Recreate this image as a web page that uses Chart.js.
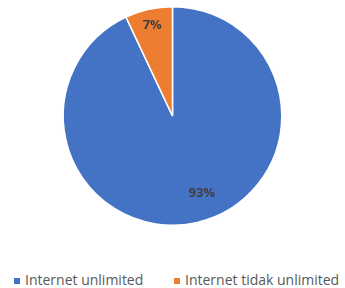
<!DOCTYPE html>
<html>
<head>
<meta charset="utf-8">
<script src="https://cdn.jsdelivr.net/npm/chart.js@4"></script>
<style>
  html, body { margin: 0; padding: 0; background: #fff; }
  #wrap { position: relative; width: 345px; height: 232px; }
  #legenda { position: absolute; left: 0; top: 270px; width: 345px; height: 18px;
             font: 14px 'Open Sans', sans-serif; color: #595959; }
  #legenda span.item { position: absolute; top: 0; white-space: nowrap; line-height: 19px; }
  #legenda span.kotak { display: inline-block; width: 6px; height: 6px; margin-right: 5px; vertical-align: 1px; }
</style>
</head>
<body>
<div id="wrap"><canvas id="pie"></canvas></div>
<div id="legenda"></div>
<script>
  // data
  const kategori = ["Internet unlimited", "Internet tidak unlimited"];
  const persen = [93, 7];
  const warna = ["#4472C4", "#ED7D31"];

  // draws the % labels inside the slices (like Excel)
  const labelPersen = {
    id: "labelPersen",
    afterDatasetsDraw(chart, args, opts) {
      const ctx = chart.ctx;
      const meta = chart.getDatasetMeta(0);
      ctx.save();
      ctx.font = "bold 13px 'Open Sans', sans-serif";
      ctx.fillStyle = "#404040";
      ctx.textAlign = "center";
      ctx.textBaseline = "middle";
      meta.data.forEach(function (arc, i) {
        let mid = (arc.startAngle + arc.endAngle) / 2 + (opts.geser[i] || 0);
        let r = arc.outerRadius * opts.jarak[i];
        let x = arc.x + Math.cos(mid) * r;
        let y = arc.y + Math.sin(mid) * r;
        ctx.fillText(persen[i] + "%", x, y);
      });
      ctx.restore();
    }
  };

  const ctx = document.getElementById("pie").getContext("2d");
  const grafik = new Chart(ctx, {
    type: "pie",
    data: {
      labels: kategori,
      datasets: [{
        data: persen,
        backgroundColor: warna,
        borderColor: "#ffffff",
        borderWidth: 1.5
      }]
    },
    options: {
      responsive: true,
      maintainAspectRatio: false,
      animation: false,
      layout: { padding: { top: 6, bottom: 6 } },
      plugins: {
        tooltip: { enabled: false },
        legend: { display: false },
        labelPersen: { jarak: [0.76, 0.85], geser: [-0.14, 0] }
      }
    },
    plugins: [labelPersen]
  });

  // legend under the chart, built from the same arrays
  const posisiLegenda = [14, 174];
  let legenda = document.getElementById("legenda");
  for (let i = 0; i < kategori.length; i++) {
    let item = document.createElement("span");
    item.className = "item";
    item.style.left = posisiLegenda[i] + "px";
    item.innerHTML = '<span class="kotak" style="background:' + warna[i] + '"></span>' + kategori[i];
    legenda.appendChild(item);
  }
</script>
</body>
</html>
